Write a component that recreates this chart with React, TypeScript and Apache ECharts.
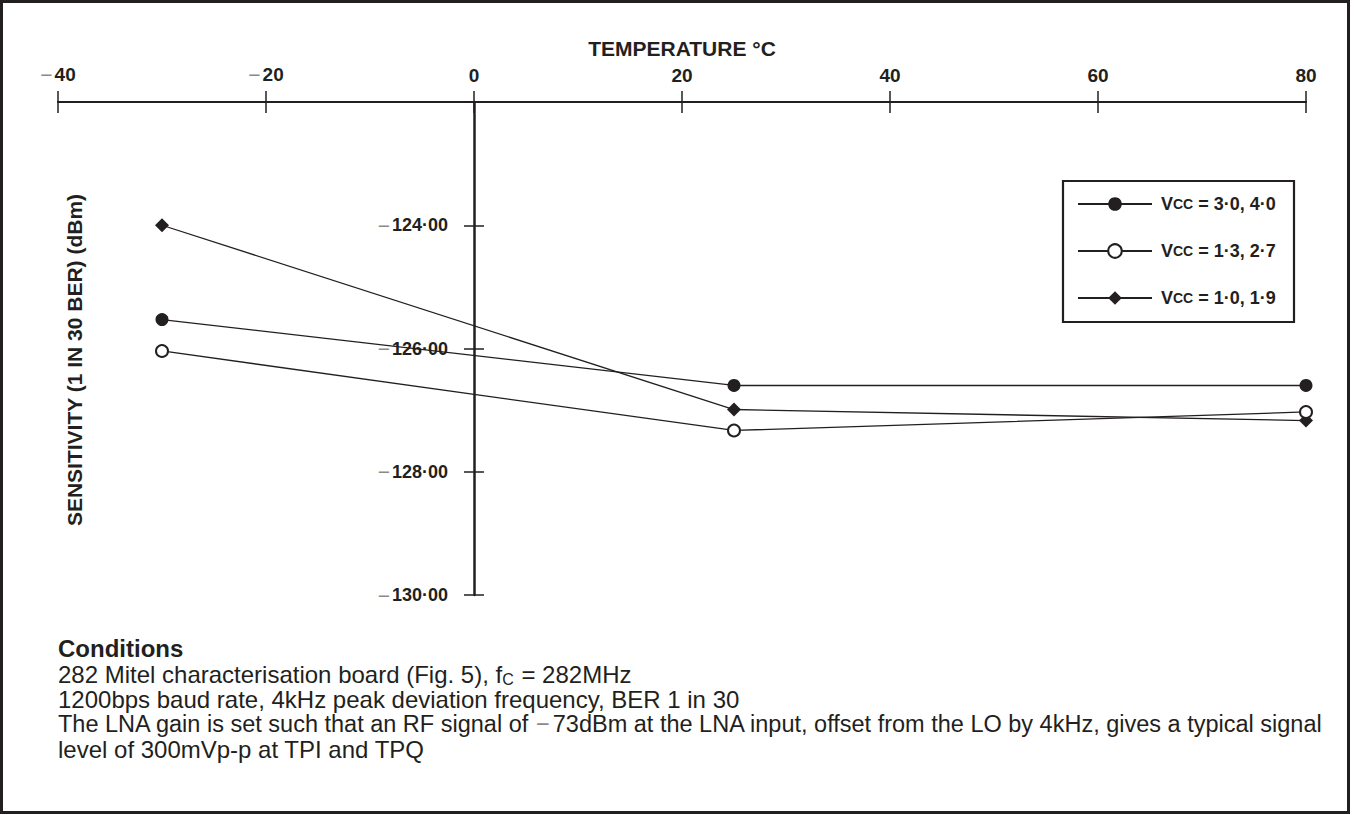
import React, { useEffect, useRef } from 'react';
import * as echarts from 'echarts';

// ---- data ----
const temps = [-30, 25, 80];
const vccHigh = [-125.53, -126.6, -126.6]; // VCC = 3·0, 4·0
const vccMid = [-126.04, -127.33, -127.03]; // VCC = 1·3, 2·7
const vccLow = [-124.0, -126.99, -127.17]; // VCC = 1·0, 1·9
const seriesNames = ['VCC = 3·0, 4·0', 'VCC = 1·3, 2·7', 'VCC = 1·0, 1·9'];
const xRange = [-40, 80];
const xStep = 20;
const yRange = [-130, -122];
const yStep = 2;
const xTitle = 'TEMPERATURE °C';
const yTitle = 'SENSITIVITY (1 IN 30 BER) (dBm)';
const conditionTitle = 'Conditions';
const conditionLines = [
  '282 Mitel characterisation board (Fig. 5), f{sub|C} = 282MHz',
  '1200bps baud rate, 4kHz peak deviation frequency, BER 1 in 30',
  'The LNA gain is set such that an RF signal of {m|−}73dBm at the LNA input, offset from the LO by 4kHz, gives a typical signal',
  'level of 300mVp-p at TPI and TPQ',
];
const conditionSizes = [24, 24, 23.5, 24];

const FONT = "'Liberation Sans', Arial, Helvetica, sans-serif";
const INK = '#231f20';
const GREY = '#8a8a8a';

const GRID_LEFT = 58;
const GRID_RIGHT = 48;
const WIDTH = 1354;

export default function App() {
  const ref = useRef<HTMLDivElement>(null);
  useEffect(() => {
    if (!ref.current) return;
    const chart = echarts.init(ref.current, null, { renderer: 'svg' });
    const minusRich = { m: { color: GREY, fontFamily: FONT, fontSize: 21, fontWeight: 'normal', padding: [0, 2, 0, 0] } };
    const xFmt = (v: number) => (v < 0 ? '{m|−}' + Math.abs(v) : String(v));
    const yFmt = (v: number) => (v === yRange[1] ? '' : '{m|−}' + Math.abs(v).toFixed(2).replace('.', '·'));
    // place the y axis where temperature = 0 crosses
    const plotW = WIDTH - GRID_LEFT - GRID_RIGHT;
    const yAxisOffset = -plotW * (0 - xRange[0]) / (xRange[1] - xRange[0]);
    const lineBase = { color: INK, width: 1.3 };
    const mk = (name: string, vals: number[], symbol: string, size: number, z: number, extra: any = {}) => ({
      type: 'line',
      name,
      data: temps.map((t, i) => [t, vals[i]]),
      symbol,
      symbolSize: size,
      showAllSymbol: true,
      lineStyle: lineBase,
      itemStyle: { color: INK, ...extra },
      z,
    });
    const option: any = {
      animation: false,
      backgroundColor: '#fff',
      grid: { left: GRID_LEFT, right: GRID_RIGHT, top: 102, bottom: 220, containLabel: false, outerBoundsMode: 'none' },
      xAxis: [
        {
          type: 'value', position: 'top', min: xRange[0], max: xRange[1], interval: xStep,
          name: xTitle, nameLocation: 'middle', nameGap: 36,
          nameTextStyle: { fontFamily: FONT, fontWeight: 'bold', fontSize: 21, color: INK },
          axisLine: { onZero: false, lineStyle: { color: INK, width: 2.2 } },
          axisTick: { show: true, inside: false, length: 11, lineStyle: { color: INK, width: 1.5 } },
          axisLabel: { margin: 17, formatter: xFmt, fontFamily: FONT, fontWeight: 'bold', fontSize: 19, color: INK, rich: minusRich },
          splitLine: { show: false },
        },
        {
          type: 'value', position: 'top', min: xRange[0], max: xRange[1], interval: xStep,
          axisLine: { onZero: false, show: false },
          axisTick: { show: true, inside: true, length: 11, lineStyle: { color: INK, width: 1.5 } },
          axisLabel: { show: false },
          splitLine: { show: false },
        },
      ],
      yAxis: [
        {
          type: 'value', position: 'left', offset: yAxisOffset, min: yRange[0], max: yRange[1], interval: yStep,
          axisLine: { show: true, onZero: false, lineStyle: { color: INK, width: 2.5 } },
          axisTick: { show: true, inside: false, length: 10, lineStyle: { color: INK, width: 1.5 } },
          axisLabel: { margin: 26, formatter: yFmt, fontFamily: FONT, fontWeight: 'bold', fontSize: 18, color: INK, rich: minusRich },
          splitLine: { show: false },
        },
        {
          type: 'value', position: 'left', offset: yAxisOffset, min: yRange[0], max: yRange[1], interval: yStep,
          axisLine: { show: false, onZero: false },
          axisTick: { show: true, inside: true, length: 10, lineStyle: { color: INK, width: 1.5 } },
          axisLabel: { show: false },
          splitLine: { show: false },
        },
      ],
      legend: {
        orient: 'vertical', left: 1072, top: 190,
        itemWidth: 74, itemHeight: 17, itemGap: 29,
        data: seriesNames, selectedMode: false,
        formatter: (name: string) => 'V{s|CC}' + name.slice(3),
        textStyle: {
          fontFamily: FONT, fontWeight: 'bold', fontSize: 18, color: INK, padding: [0, 0, 0, 4],
          rich: { s: { fontFamily: FONT, fontWeight: 'bold', fontSize: 14, color: INK } },
        },
      },
      series: [
        mk(seriesNames[0], vccHigh, 'circle', 13, 3),
        mk(seriesNames[1], vccMid, 'emptyCircle', 12, 4, { borderWidth: 1.3 }),
        mk(seriesNames[2], vccLow, 'diamond', 14, 2),
      ],
      graphic: [
        { type: 'rect', silent: true, shape: { x: 1.5, y: 1.5, width: 1347, height: 811 }, style: { fill: 'none', stroke: INK, lineWidth: 3 } },
        { type: 'rect', silent: true, shape: { x: 1063, y: 181, width: 231, height: 141 }, style: { fill: 'none', stroke: INK, lineWidth: 2.2 } },
        {
          type: 'text', silent: true, x: 74, y: 360, rotation: Math.PI / 2,
          style: { text: yTitle, fill: INK, font: `bold 21px ${FONT}`, align: 'center', verticalAlign: 'middle' },
        },
        {
          type: 'text', silent: true, x: 58, y: 648,
          style: { text: conditionTitle, fill: INK, font: `bold 24px ${FONT}`, align: 'left', verticalAlign: 'middle', lineHeight: 25 },
        },
        ...conditionLines.map((t, i) => ({
          type: 'text', silent: true, x: 58, y: 674 + i * 25,
          style: {
            text: t, fill: INK, font: `${conditionSizes[i]}px ${FONT}`, align: 'left', verticalAlign: 'middle', lineHeight: 24,
            rich: {
              sub: { fontFamily: FONT, fontSize: 16, fill: INK, lineHeight: 13, padding: [11, 1, 0, 0] },
              m: { fontFamily: FONT, fontSize: conditionSizes[i], fill: GREY, lineHeight: 24, padding: [0, 3, 0, 0] },
            },
          },
        })),
      ],
    };
    chart.setOption(option);
    return () => chart.dispose();
  }, []);
  return <div ref={ref} style={{ position: 'absolute', left: 0, top: 0, width: 1354, height: 815, background: '#fff' }} />;
}
